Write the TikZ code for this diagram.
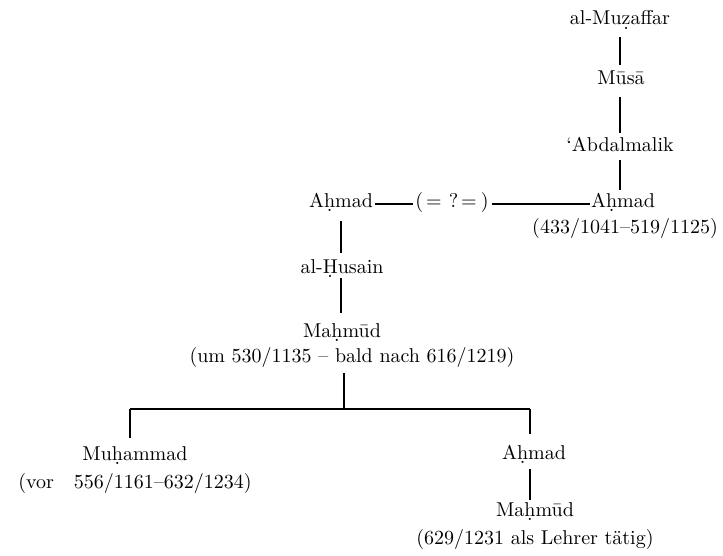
\documentclass[tikz,border=0pt]{standalone}
% dot below a letter, built from a lowered period
\newcommand\dotbelow[1]{\ooalign{#1\crcr\hidewidth\raisebox{-2.3pt}{.}\hidewidth\crcr}}
\begin{document}
\begin{tikzpicture}[x=0.5pt,y=-0.5pt,
  person/.style={inner sep=0pt,text height=7pt,text depth=0pt,anchor=base,font=\fontsize{10}{12}\selectfont},
  link/.style={line width=1pt},
  bar/.style={line width=1.2pt}]
\useasboundingbox (0,0) rectangle (723,556);

% upper line of descent
\node[person] (muz)  at (620,25)  {al-Mu\dotbelow{z}affar};
\node[person] (musa) at (621,85)  {Mūsā};
\node[person] (abd)  at (620,152) {‘Abdalmalik};
\node[person] (ahR)  at (623,207) {A\dotbelow{h}mad};
\node[person] (datR) at (625,233) {(433/1041–519/1125)};

% left branch
\node[person] (ahL)  at (341,207) {A\dotbelow{h}mad};
\node[person] (q)    at (452,207) {(\hspace{1.5pt}=\hspace{3.5pt}?\hspace{1.5pt}=\hspace{2pt})};
\node[person] (hus)  at (342,273) {al-\dotbelow{H}usain};
\node[person] (mah)  at (342,337) {Ma\dotbelow{h}mūd};
\node[person] (datM) at (352,362) {(um 530/1135 – bald nach 616/1219)};

% sons
\node[person] (muh)  at (135,460) {Mu\dotbelow{h}ammad};
\node[person] (datL) at (135,488) {(vor\hspace*{1em}556/1161–632/1234)};
\node[person] (ahB)  at (534,459) {A\dotbelow{h}mad};
\node[person] (mahB) at (535,516) {Ma\dotbelow{h}mūd};
\node[person] (datB) at (535,544) {(629/1231 als Lehrer tätig)};

% fork points of the lower bar
\coordinate (fork)  at (344,409);
\coordinate (forkL) at (130,409);
\coordinate (forkR) at (530,409);

% vertical links
\draw[link,shorten <=6pt,shorten >=3pt] (muz.south) -- (muz.south |- musa.north);
\draw[link,shorten <=6pt,shorten >=2.5pt] (musa.south -| muz) -- (muz |- abd.north);
\draw[link,shorten <=4pt,shorten >=1.5pt] (abd.south -| muz) -- (muz |- ahR.north);
\draw[link,shorten <=7pt,shorten >=3pt] (ahL.south) -- (ahL.south |- hus.north);
\draw[link,shorten <=2.5pt,shorten >=5pt] (hus.south -| ahL) -- (ahL |- mah.north);
\draw[link,shorten <=5.5pt] (datM.south -| fork) -- (fork);
\draw[bar] (forkL) -- (forkR);
\draw[link,shorten >=4pt] (forkL) -- (forkL |- muh.north);
\draw[link,shorten >=5.5pt] (forkR) -- (forkR |- ahB.north);
\draw[link,shorten <=5pt,shorten >=1pt] (ahB.south -| forkR) -- (forkR |- mahB.north);

% the two Ahmads, possibly identical
\draw[link] ([xshift=1pt,yshift=1.5pt]ahL.base east) -- ([xshift=-1pt,yshift=1.5pt]q.base west);
\draw[link] ([xshift=1.5pt,yshift=1.5pt]q.base east) -- ([xshift=-0.5pt,yshift=1.5pt]ahR.base west);
\end{tikzpicture}
\end{document}
